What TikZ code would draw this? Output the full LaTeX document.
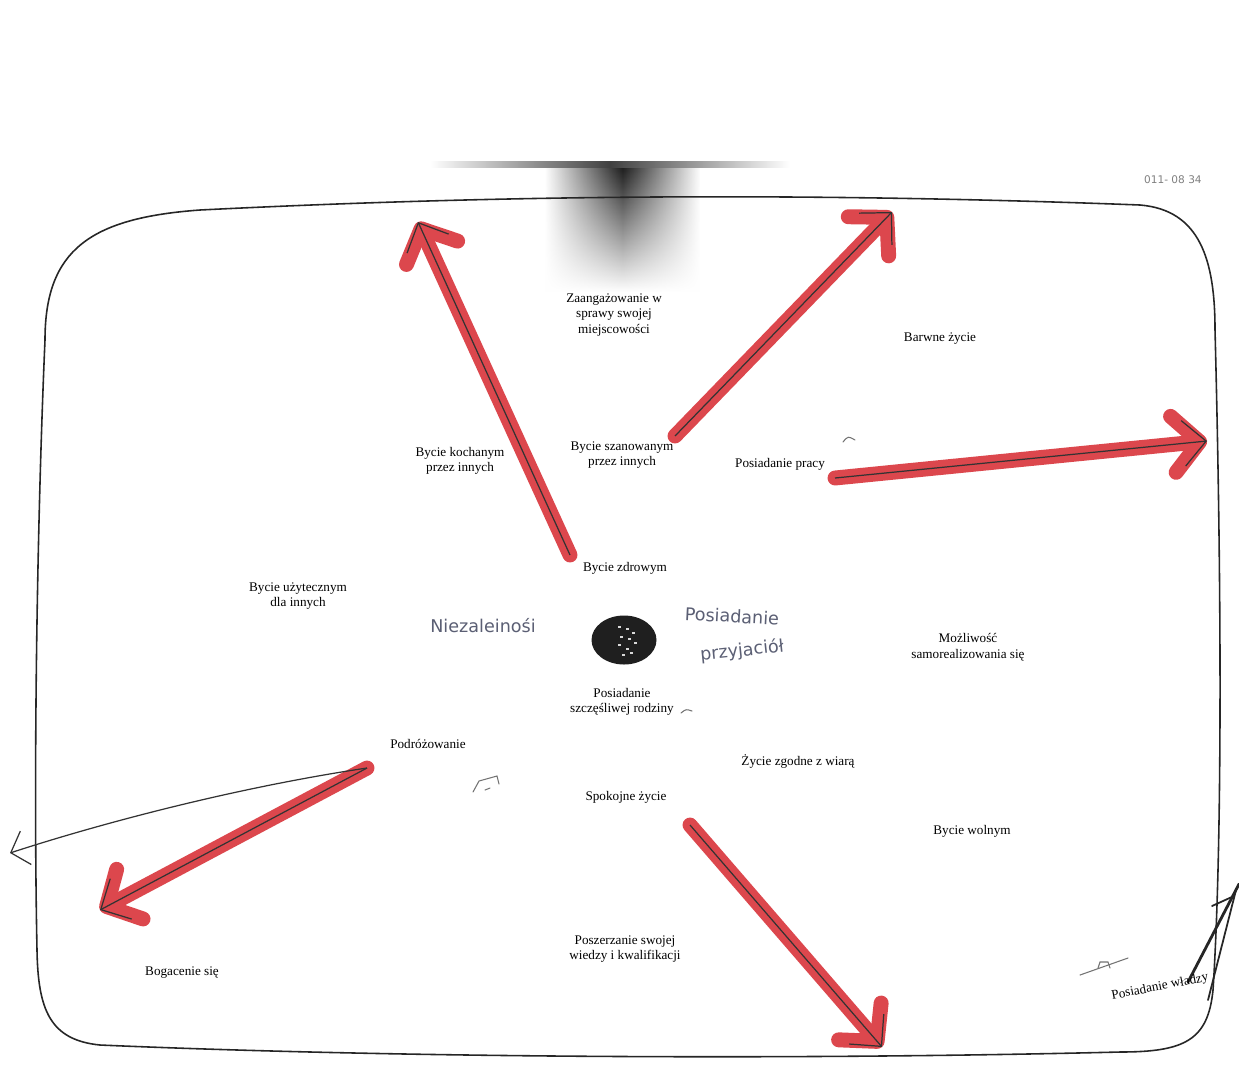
\documentclass[tikz,border=0pt]{standalone}
\usepackage{fontspec}
\setmainfont{Liberation Serif}
\newfontfamily\handfont{DejaVu Sans}
\usetikzlibrary{arrows.meta,shapes.geometric,fadings}
\definecolor{markerred}{HTML}{DC474D}
\definecolor{inkblue}{HTML}{5B5F74}
\tikzfading[name=fade sides, left color=transparent!100, right color=transparent!100, middle color=transparent!0]
\begin{document}
\begin{tikzpicture}[x=0.02cm,y=-0.02cm,
    value/.style={font=\fontsize{7.5}{8.8}\selectfont, align=center, inner sep=1pt},
    hand/.style={font=\handfont\fontsize{10}{12}\selectfont, text=inkblue, inner sep=1pt},
    marker/.style={draw=markerred, line width=8.5pt, line cap=round, -{Straight Barb[length=15pt,width=32pt,round]}},
    pen/.style={draw=black!80, line width=0.7pt, -{Straight Barb[length=13pt,width=26pt]}},
    thinpen/.style={draw=black!80, line width=0.7pt, -{Straight Barb[length=9pt,width=20pt]}},
    doodle/.style={draw=black!55, line width=0.6pt, line cap=round}]
  \useasboundingbox (0,0) rectangle (1239,1079);
  \fill[white] (0,0) rectangle (1239,1079);

  % scan smudge at the top
  \shade[top color=black!90, bottom color=white, path fading=fade sides] (545,165) rectangle (700,292);
  \shade[left color=white, right color=white, middle color=black!75] (430,161) rectangle (790,167);

  % sheet outline
  \draw[black!85, line width=0.9pt] (45,340) .. controls (45,250) and (90,218) .. (200,210)
    .. controls (500,195) and (800,192) .. (1140,205) .. controls (1200,210) and (1215,260) .. (1215,330)
    .. controls (1222,600) and (1222,850) .. (1213,990) .. controls (1208,1040) and (1185,1052) .. (1120,1052)
    .. controls (800,1060) and (400,1058) .. (100,1045) .. controls (50,1040) and (38,1010) .. (37,950)
    .. controls (33,750) and (38,500) .. (45,340) -- cycle;
  \draw[black!85, line width=1.6pt, line cap=round] (1239,884) -- (1188,982);
  \draw[black!85, line width=1pt, line cap=round] (1236,890) -- (1208,1000);
  \draw[black!85, line width=1pt, line cap=round] (1234,896) -- (1212,906);

  \node[text=black!50, font=\handfont\fontsize{6}{7}\selectfont, anchor=west] (stamp) at (1138,180) {011- 08 34};

  % values
  \node[value] (zaang) at (614,315) {Zaangażowanie w\\sprawy swojej\\miejscowości};
  \node[value] (barwne) at (940,339) {Barwne życie};
  \node[value] (koch) at (460,461) {Bycie kochanym\\przez innych};
  \node[value] (szan) at (622,455) {Bycie szanowanym\\przez innych};
  \node[value] (praca) at (780,464) {Posiadanie pracy};
  \node[value] (zdrowy) at (625,568) {Bycie zdrowym};
  \node[value] (uzyt) at (298,596) {Bycie użytecznym\\dla innych};
  \node[value] (samor) at (968,647) {Możliwość\\samorealizowania się};
  \node[value] (rodzina) at (622,702) {Posiadanie\\szczęśliwej rodziny};
  \node[value] (podroz) at (428,744) {Podróżowanie};
  \node[value] (wiara) at (798,761) {Życie zgodne z wiarą};
  \node[value] (spokoj) at (626,797) {Spokojne życie};
  \node[value] (wolny) at (972,831) {Bycie wolnym};
  \node[value] (wiedza) at (625,949) {Poszerzanie swojej\\wiedzy i kwalifikacji};
  \node[value] (bogac) at (182,973) {Bogacenie się};
  \node[value, rotate=11] (wladza) at (1160,987) {Posiadanie władzy};

  % handwritten additions
  \node[hand] (niezal) at (483,626) {Niezaleinośi};
  \node[hand, rotate=-3] (posiad) at (732,616) {Posiadanie};
  \node[hand, rotate=6] (przyj) at (742,651) {przyjaciół};

  % center mark
  \node[ellipse, fill=black!88, minimum width=1.3cm, minimum height=0.98cm, inner sep=0pt] (blob) at (624,640) {};
  \foreach \dx/\dy in {-6/-14,2/-12,8/-8,-4/-4,4/-2,10/2,-6/4,2/8,6/12,-2/14}
    \fill[white!85!black] (624+\dx,640+\dy) rectangle ++(3,2);

  % arrow ends
  \coordinate (kochS) at (570,555);   \coordinate (kochE) at (418,222);
  \coordinate (szanS) at (675,436);   \coordinate (szanE) at (892,212);
  \coordinate (pracaS) at (835,478);  \coordinate (pracaE) at (1207,441);
  \coordinate (podrS) at (367,768);   \coordinate (podrE) at (100,910);
  \coordinate (spokS) at (690,825);   \coordinate (spokE) at (882,1047);
  \coordinate (edgeW) at (10,853);

  \foreach \s/\e in {kochS/kochE,szanS/szanE,pracaS/pracaE,podrS/podrE,spokS/spokE}{
    \draw[marker] (\s) -- (\e);
    \draw[pen] (\s) -- (\e);
  }
  \draw[thinpen] (podrS) .. controls (220,790) and (80,830) .. (edgeW);

  % small pen marks
  \draw[doodle] (843,442) .. controls (848,436) .. (855,440);
  \draw[doodle] (681,713) .. controls (686,709) .. (692,711);
  \draw[doodle] (473,792) -- (479,781) -- (497,776) -- (499,784);
  \draw[doodle] (485,790) -- (490,788);
  \draw[doodle] (1080,975) -- (1128,958);
  \draw[doodle] (1098,968) -- (1100,962) -- (1108,962) -- (1110,968);
\end{tikzpicture}
\end{document}
